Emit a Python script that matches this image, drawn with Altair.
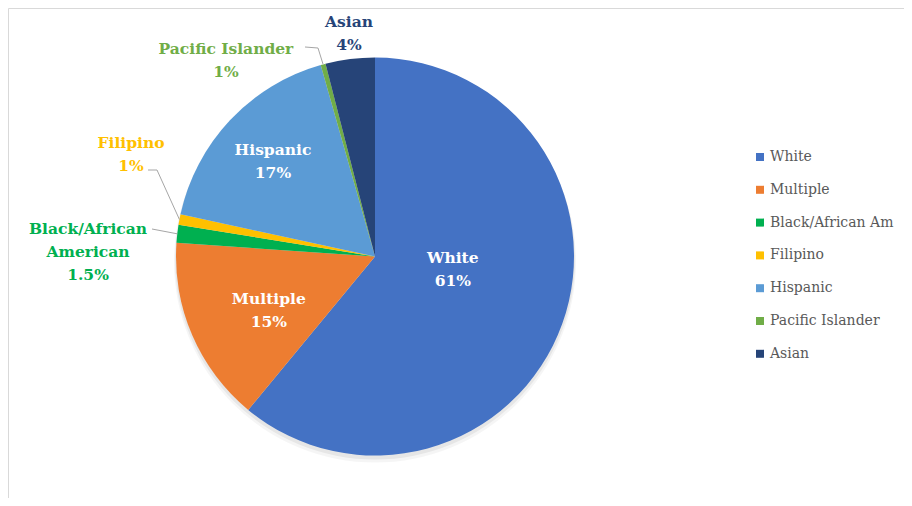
import math
import altair as alt
import pandas as pd

# ---- data ----
categories = ["White", "Multiple", "Black/African Am", "Filipino", "Hispanic", "Pacific Islander", "Asian"]
values = [61.0, 15.1, 1.45, 0.86, 17.2, 0.4, 4.0]
pct_labels = ["61%", "15%", "1.5%", "1%", "17%", "1%", "4%"]
slice_names = ["White", "Multiple", "Black/African\nAmerican", "Filipino", "Hispanic", "Pacific Islander", "Asian"]
colors = ["#4472C4", "#ED7D31", "#00B050", "#FFC000", "#5B9BD5", "#70AD47", "#264478"]
label_colors = ["#FFFFFF", "#FFFFFF", "#00B050", "#FFC000", "#FFFFFF", "#70AD47", "#264478"]

SERIF = "'DejaVu Serif', serif"

# ---- layout (pixels, chart coordinates) ----
W, H = 896, 490
CX, CY, R = 367, 248.5, 199
LH = 23
# label placement: polar (angle in degrees from north, distance from centre) of the text block centre
label_polar = [(99.8, 79), (243.2, 119), (270.9, 287), (292.7, 264.5), (313.0, 139.5), (322.8, 246.6), (353.35, 224.5)]

df = pd.DataFrame({"cat": categories, "value": values, "idx": list(range(len(categories)))})

lx, ly, txt = [], [], []
for (a, r), n, p in zip(label_polar, slice_names, pct_labels):
    t = n + "\n" + p
    nlines = t.count("\n") + 1
    lx.append(CX + r * math.sin(math.radians(a)))
    ly.append(CY - r * math.cos(math.radians(a)) - (nlines - 1) * LH / 2)
    txt.append(t)
lab = pd.DataFrame({"x": lx, "y": ly, "t": txt, "c": label_colors})

# leader lines: from label side to slice edge at the slice's mid angle
total = sum(values)
cum = 0
mids = []
for v in values:
    mids.append((cum + v / 2) / total * 360)
    cum += v
leader_start = {
    "Pacific Islander": [(297, 39), (310, 40)],
    "Filipino": [(140, 162), (149, 162)],
    "Black/African Am": [(144, 221)],
}
rows = []
for cat, pts in leader_start.items():
    i = categories.index(cat)
    a = math.radians(mids[i])
    edge = (CX + R * math.sin(a), CY - R * math.cos(a))
    for k, (px, py) in enumerate(pts + [edge]):
        rows.append({"g": cat, "k": k, "x": px, "y": py})
lead = pd.DataFrame(rows)

one = pd.DataFrame({"a": [0]})

border_top = alt.Chart(one).mark_rule(color="#D9D9D9", strokeWidth=1).encode(
    x=alt.value(0.5), x2=alt.value(W), y=alt.value(0.5))
border_left = alt.Chart(one).mark_rule(color="#D9D9D9", strokeWidth=1).encode(
    x=alt.value(0.5), y=alt.value(0.5), y2=alt.value(H))

shadow1 = alt.Chart(one).mark_arc(outerRadius=R + 1, theta=0, theta2=6.2832, color="#000000", opacity=0.06).encode(
    x=alt.value(CX), y=alt.value(CY + 3))
shadow2 = alt.Chart(one).mark_arc(outerRadius=R + 2, theta=0, theta2=6.2832, color="#000000", opacity=0.04).encode(
    x=alt.value(CX), y=alt.value(CY + 5))

pie = alt.Chart(df).mark_arc(outerRadius=R).encode(
    theta=alt.Theta("value:Q", stack=True),
    order=alt.Order("idx:Q"),
    x=alt.value(CX),
    y=alt.value(CY),
    color=alt.Color(
        "cat:N",
        sort=categories,
        scale=alt.Scale(domain=categories, range=colors),
        legend=alt.Legend(
            orient="none", legendX=745, legendY=142, title=None,
            symbolType="square", symbolSize=64, symbolStrokeWidth=0,
            labelFont=SERIF, labelFontSize=14, labelColor="#595959",
            rowPadding=18.8, labelOffset=3, padding=0,
        ),
    ),
)

leaders = alt.Chart(lead).mark_line(color="#A6A6A6", strokeWidth=1).encode(
    x=alt.X("x:Q", scale=None), y=alt.Y("y:Q", scale=None), detail="g:N", order="k:Q")

labels = alt.Chart(lab).mark_text(
    font=SERIF, fontSize=15.5, fontWeight="bold", lineBreak="\n", lineHeight=LH,
    align="center", baseline="middle",
).encode(
    x=alt.X("x:Q", scale=None), y=alt.Y("y:Q", scale=None), text="t:N",
    color=alt.Color("c:N", scale=None),
)

chart = alt.layer(border_top, border_left, shadow2, shadow1, pie, leaders, labels).resolve_scale(
    color="independent"
).properties(
    width=W, height=H, autosize=alt.AutoSizeParams(type="none"), padding=0,
).configure_view(stroke=None)

chart.save("out.html", embed_options={"renderer": "svg", "actions": False})
